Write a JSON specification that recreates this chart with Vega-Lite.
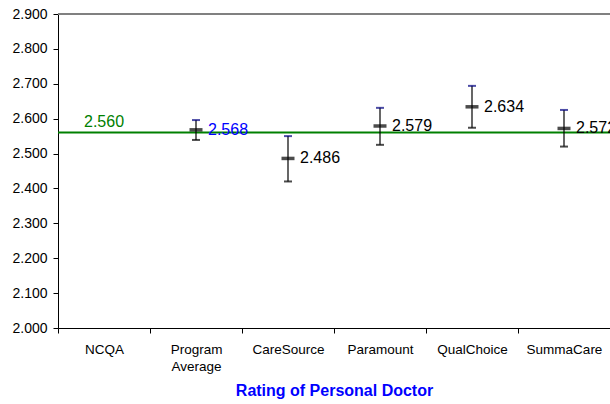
{
  "$schema": "https://vega.github.io/schema/vega-lite/v6.json",
  "autosize": "none",
  "width": 552,
  "height": 314,
  "padding": {"left": 58, "top": 14, "right": 0, "bottom": 76},
  "background": "white",
  "config": {
    "view": {"stroke": null},
    "font": "Liberation Sans",
    "axis": {"labelFont": "Liberation Sans", "titleFont": "Liberation Sans", "labelColor": "black", "domainColor": "black", "tickColor": "black"},
    "axisY": {"title": null, "format": ".3f", "labelFontSize": 14, "labelOverlap": false, "labelFlush": false, "labelBound": false, "tickSize": 5, "labelPadding": 6, "grid": false, "domainWidth": 1}
  },
  "data": {
    "values": [
      {"plan": "NCQA", "mean": 2.560, "lower": null, "upper": null},
      {"plan": "Program Average", "mean": 2.568, "lower": 2.539, "upper": 2.596},
      {"plan": "CareSource", "mean": 2.486, "lower": 2.420, "upper": 2.550},
      {"plan": "Paramount", "mean": 2.579, "lower": 2.525, "upper": 2.631},
      {"plan": "QualChoice", "mean": 2.634, "lower": 2.574, "upper": 2.694},
      {"plan": "SummaCare", "mean": 2.572, "lower": 2.520, "upper": 2.625}
    ]
  },
  "encoding": {
    "x": {
      "field": "plan",
      "type": "nominal",
      "sort": null,
      "scale": {"paddingInner": 0, "paddingOuter": 0},
      "axis": {
        "title": "Rating of Personal Doctor",
        "titleColor": "#0000FF",
        "titleFontSize": 16,
        "titleFontWeight": "bold",
        "titlePadding": 10,
        "labelAngle": 0,
        "labelFontSize": 13.5,
        "labelPadding": 9,
        "labelLineHeight": 17,
        "labelExpr": "split(datum.label, ' ')",
        "labelOverlap": false,
        "tickBand": "extent",
        "tickSize": 5,
        "domainWidth": 1
      }
    }
  },
  "layer": [
    {
      "mark": {"type": "rule", "color": "#808080", "strokeWidth": 1.5},
      "encoding": {
        "x": null,
        "y": {"datum": 2.9, "type": "quantitative", "scale": {"domain": [2.0, 2.9], "nice": false, "zero": false}, "axis": {"values": [2.0, 2.1, 2.2, 2.3, 2.4, 2.5, 2.6, 2.7, 2.8, 2.9]}}
      }
    },
    {
      "transform": [{"filter": "datum.plan === 'NCQA'"}],
      "mark": {"type": "rule", "color": "#008000", "strokeWidth": 2},
      "encoding": {"x": null, "y": {"field": "mean", "type": "quantitative", "scale": {"domain": [2.0, 2.9], "nice": false, "zero": false}, "axis": {"values": [2.0, 2.1, 2.2, 2.3, 2.4, 2.5, 2.6, 2.7, 2.8, 2.9]}}}
    },
    {
      "transform": [{"filter": "datum.plan === 'NCQA'"}],
      "mark": {"type": "text", "color": "#008000", "fontSize": 16, "baseline": "bottom", "dy": -3},
      "encoding": {
        "y": {"field": "mean", "type": "quantitative", "axis": {"values": [2.0, 2.1, 2.2, 2.3, 2.4, 2.5, 2.6, 2.7, 2.8, 2.9]}},
        "text": {"field": "mean", "type": "quantitative", "format": ".3f"}
      }
    },
    {
      "transform": [{"filter": "datum.plan !== 'NCQA'"}],
      "mark": {"type": "rule", "color": "black", "strokeWidth": 1.2},
      "encoding": {
        "y": {"field": "lower", "type": "quantitative", "axis": {"values": [2.0, 2.1, 2.2, 2.3, 2.4, 2.5, 2.6, 2.7, 2.8, 2.9]}},
        "y2": {"field": "upper"}
      }
    },
    {
      "transform": [{"filter": "datum.plan !== 'NCQA'"}],
      "mark": {"type": "tick", "color": "black", "size": 8, "thickness": 2},
      "encoding": {"y": {"field": "lower", "type": "quantitative", "axis": {"values": [2.0, 2.1, 2.2, 2.3, 2.4, 2.5, 2.6, 2.7, 2.8, 2.9]}}}
    },
    {
      "transform": [{"filter": "datum.plan !== 'NCQA'"}],
      "mark": {"type": "tick", "color": "#000080", "size": 8, "thickness": 2},
      "encoding": {"y": {"field": "upper", "type": "quantitative", "axis": {"values": [2.0, 2.1, 2.2, 2.3, 2.4, 2.5, 2.6, 2.7, 2.8, 2.9]}}}
    },
    {
      "transform": [{"filter": "datum.plan !== 'NCQA'"}],
      "mark": {"type": "tick", "color": "black", "size": 13, "thickness": 3.5},
      "encoding": {"y": {"field": "mean", "type": "quantitative", "axis": {"values": [2.0, 2.1, 2.2, 2.3, 2.4, 2.5, 2.6, 2.7, 2.8, 2.9]}}}
    },
    {
      "transform": [{"filter": "datum.plan !== 'NCQA'"}],
      "mark": {"type": "text", "fontSize": 16, "align": "left", "baseline": "middle", "dx": 12},
      "encoding": {
        "y": {"field": "mean", "type": "quantitative", "axis": {"values": [2.0, 2.1, 2.2, 2.3, 2.4, 2.5, 2.6, 2.7, 2.8, 2.9]}},
        "text": {"field": "mean", "type": "quantitative", "format": ".3f"},
        "color": {"condition": {"test": "datum.plan === 'Program Average'", "value": "#0000FF"}, "value": "black"}
      }
    }
  ],
  "resolve": {"scale": {"y": "shared"}}
}
